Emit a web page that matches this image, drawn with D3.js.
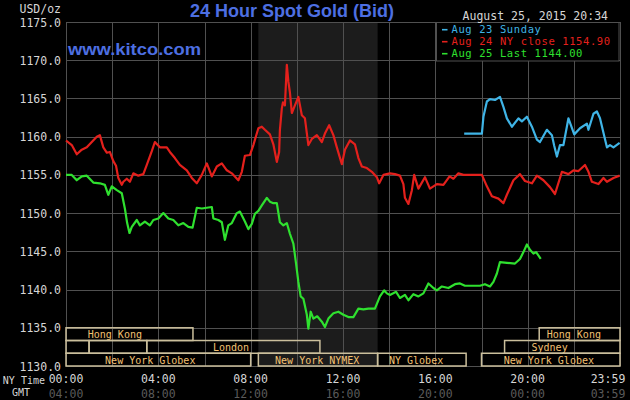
<!DOCTYPE html>
<html><head><meta charset="utf-8">
<script src="https://cdn.jsdelivr.net/npm/d3@7"></script>
<style>html,body{margin:0;padding:0;background:#000;overflow:hidden}</style>
</head><body>
<svg id="c" width="630" height="400"></svg>
<script>
// ---- data (NY time, USD/oz) ----
const aug23 = [["17:15",1160.4],["18:01",1160.4],["18:05",1162.6],["18:14",1164.6],["18:22",1164.9],["18:35",1164.8],["18:48",1165.2],["18:57",1163.9],["19:06",1162.4],["19:19",1161.3],["19:36",1162.4],["19:45",1162.0],["19:58",1162.6],["20:11",1161.3],["20:24",1159.6],["20:32",1159.3],["20:50",1160.9],["21:03",1160.2],["21:09",1158.8],["21:16",1157.4],["21:24",1158.9],["21:33",1158.9],["21:46",1162.4],["22:01",1160.3],["22:16",1161.1],["22:34",1161.7],["22:38",1160.9],["22:51",1163.0],["23:00",1163.3],["23:08",1162.4],["23:26",1158.6],["23:34",1158.9],["23:43",1158.6],["23:59",1159.2]];

const aug24 = [["00:00",1159.5],["00:15",1158.9],["00:28",1157.7],["00:41",1158.3],["00:54",1158.6],["01:07",1159.3],["01:20",1160.0],["01:28",1160.2],["01:37",1158.6],["01:46",1157.9],["01:54",1158.0],["02:03",1156.8],["02:10",1156.2],["02:16",1154.6],["02:25",1153.7],["02:29",1154.1],["02:38",1154.5],["02:46",1154.1],["02:55",1155.2],["03:08",1154.9],["03:21",1155.1],["03:30",1156.3],["03:43",1158.1],["03:51",1159.3],["04:04",1158.6],["04:22",1158.6],["04:30",1158.0],["04:43",1157.2],["04:56",1156.3],["05:14",1155.6],["05:27",1154.6],["05:40",1153.9],["05:53",1155.0],["06:06",1156.5],["06:19",1154.8],["06:32",1156.1],["06:45",1156.5],["06:58",1155.6],["07:11",1155.2],["07:28",1154.3],["07:37",1155.4],["07:45",1157.5],["07:58",1157.6],["08:07",1158.9],["08:20",1161.1],["08:29",1161.3],["08:37",1160.9],["08:50",1160.3],["08:59",1159.0],["09:08",1156.7],["09:14",1158.0],["09:16",1160.9],["09:21",1163.7],["09:24",1164.5],["09:29",1164.1],["09:34",1169.4],["09:38",1167.2],["09:42",1165.8],["09:47",1163.1],["09:55",1164.1],["10:04",1165.2],["10:13",1162.8],["10:21",1162.4],["10:30",1158.9],["10:39",1159.7],["10:52",1160.2],["11:05",1159.3],["11:13",1160.4],["11:24",1161.5],["11:35",1160.2],["11:44",1158.6],["11:57",1156.4],["12:05",1158.3],["12:18",1159.5],["12:31",1159.0],["12:40",1157.2],["12:49",1156.1],["13:02",1155.9],["13:15",1155.4],["13:28",1154.7],["13:34",1153.9],["13:45",1155.0],["14:02",1155.2],["14:15",1155.1],["14:28",1154.9],["14:37",1153.8],["14:41",1152.0],["14:50",1151.2],["14:59",1153.0],["15:05",1155.0],["15:16",1153.2],["15:33",1154.7],["15:46",1153.2],["16:04",1153.8],["16:21",1153.7],["16:37",1154.8],["16:47",1154.5],["17:00",1155.2],["17:13",1155.0],["18:01",1155.0],["18:14",1153.5],["18:27",1152.2],["18:44",1151.9],["18:57",1151.3],["19:06",1152.4],["19:23",1154.3],["19:40",1155.1],["19:53",1154.2],["20:11",1153.9],["20:24",1154.9],["20:41",1154.3],["20:58",1153.4],["21:11",1152.5],["21:29",1155.4],["21:46",1155.1],["21:59",1155.6],["22:12",1155.5],["22:29",1156.3],["22:38",1155.4],["22:47",1154.1],["23:04",1153.8],["23:17",1154.6],["23:26",1154.1],["23:43",1154.6],["23:59",1154.9]];

const aug25 = [["00:00",1155.0],["00:15",1155.0],["00:28",1154.3],["00:41",1154.8],["00:54",1154.9],["01:11",1154.0],["01:28",1153.9],["01:41",1153.7],["01:50",1152.4],["01:59",1153.5],["02:12",1153.0],["02:25",1152.6],["02:33",1150.6],["02:39",1148.7],["02:45",1147.4],["02:51",1148.2],["03:04",1149.1],["03:12",1148.4],["03:25",1148.9],["03:38",1148.4],["03:47",1149.1],["04:00",1149.3],["04:13",1150.0],["04:26",1149.3],["04:39",1149.1],["04:52",1148.4],["05:05",1148.7],["05:18",1148.2],["05:29",1148.1],["05:40",1150.7],["05:53",1150.6],["06:06",1150.7],["06:19",1150.8],["06:23",1149.3],["06:36",1149.1],["06:45",1148.8],["06:53",1146.5],["07:02",1148.4],["07:11",1148.7],["07:24",1150.0],["07:32",1150.2],["07:45",1148.9],["07:54",1147.9],["08:03",1148.6],["08:11",1149.9],["08:20",1150.3],["08:29",1151.0],["08:42",1152.0],["08:50",1151.5],["08:59",1151.3],["09:08",1151.3],["09:16",1148.8],["09:25",1148.4],["09:34",1148.7],["09:42",1147.3],["09:51",1146.0],["09:58",1143.4],["10:04",1141.0],["10:10",1139.1],["10:17",1138.8],["10:26",1136.7],["10:30",1134.9],["10:36",1137.1],["10:43",1136.2],["10:53",1136.5],["11:05",1135.8],["11:13",1135.1],["11:22",1136.2],["11:35",1136.9],["11:48",1137.1],["12:01",1136.7],["12:14",1136.4],["12:27",1136.4],["12:40",1137.5],["12:53",1137.4],["13:06",1137.5],["13:23",1137.5],["13:36",1139.1],["13:47",1139.9],["13:54",1139.5],["14:02",1139.3],["14:18",1139.7],["14:28",1138.9],["14:41",1139.3],["14:50",1138.6],["15:03",1139.4],["15:16",1139.1],["15:29",1139.5],["15:42",1140.8],["15:55",1140.2],["16:04",1139.9],["16:17",1140.4],["16:34",1140.2],["16:51",1140.7],["17:04",1140.8],["17:17",1140.5],["17:56",1140.5],["18:09",1140.7],["18:22",1140.4],["18:31",1141.0],["18:40",1142.1],["18:48",1143.6],["19:06",1143.5],["19:27",1143.4],["19:40",1144.0],["19:49",1144.9],["19:58",1145.9],["20:06",1145.2],["20:15",1144.7],["20:22",1144.9],["20:34",1144.0]];

const yTicks = [1130, 1135, 1140, 1145, 1150, 1155, 1160, 1165, 1170, 1175];
const xTickTimes = ["00:00","04:00","08:00","12:00","16:00","20:00","23:59"];
const gmtLabels = ["04:00","08:00","12:00","16:00","20:00","00:00","03:59"];
const gridTimes = ["00:00","02:00","04:00","06:00","08:00","10:00","12:00","14:00","16:00","18:00","20:00","22:00","24:00"];

const legendLabels = ["Aug 23 Sunday","Aug 24 NY close 1154.90","Aug 25 Last 1144.00"];
const seriesColors = ["#3fb4e6","#e4201c","#2fe02f"];

const sessionRow1 = [{name:"Hong Kong",start:"00:00",end:"05:30",at:"02:07"},{name:"Hong Kong",start:"20:30",end:"24:00",at:"22:00"}];
const sessionRow2 = [{name:"",start:"00:00",end:"01:00"},{name:"",start:"01:00",end:"03:30"},{name:"London",start:"03:30",end:"11:00",at:"07:09"},{name:"Sydney",start:"19:00",end:"24:00",at:"20:57"}];
const sessionRow3 = [{name:"New York Globex",start:"00:00",end:"08:00",at:"03:39"},{name:"New York NYMEX",start:"08:20",end:"13:30",at:"10:53"},{name:"NY Globex",start:"13:30",end:"17:20",at:"15:10"},{name:"New York Globex",start:"18:00",end:"24:00",at:"20:55"}];

// ---- chart ----
const W = 630, H = 400;
const m = {l:66, r:620, t:22, b:366};
const T = s => { const p = s.split(":").map(Number); return p[0] + p[1]/60; };
const x = d3.scaleLinear().domain([0,24]).range([m.l, m.r]);
const y = d3.scaleLinear().domain([1130,1175]).range([m.b, m.t]);
const mono = "'DejaVu Sans Mono', monospace";
const svg = d3.select("#c");
svg.append("rect").attr("width",W).attr("height",H).attr("fill","#000");

// NYMEX pit shading
const pit = sessionRow3[1];
svg.append("rect").attr("x",x(T(pit.start))).attr("y",y(1175))
  .attr("width",x(T(pit.end))-x(T(pit.start))).attr("height",y(1130)-y(1175))
  .attr("fill","#1c1c1c");

// grid
const grid = svg.append("g").attr("stroke","#505050").attr("stroke-width",1);
yTicks.forEach(v => {
  const yy = Math.round(y(v)) + 0.5;
  grid.append("line").attr("x1",m.l).attr("x2",m.r).attr("y1",yy).attr("y2",yy);
});
gridTimes.forEach(t => {
  const xx = Math.round(x(T(t))) + 0.5;
  grid.append("line").attr("x1",xx).attr("x2",xx).attr("y1",y(1175)).attr("y2",y(1130));
});

// sessions
const rowH = (y(1130) - y(1135)) / 3;
[sessionRow1, sessionRow2, sessionRow3].forEach((row, i) => {
  const top = y(1135) + i*rowH;
  row.forEach(s => {
    const x0 = x(T(s.start)), x1 = x(T(s.end));
    svg.append("rect").attr("x",x0).attr("y",top).attr("width",x1-x0).attr("height",rowH)
      .attr("fill","none").attr("stroke","#cbbf9c").attr("stroke-width",1.5);
    if (s.name) {
      svg.append("text").attr("x",x(T(s.at))).attr("y",top+rowH/2+0.5)
        .attr("text-anchor","middle").attr("dominant-baseline","central")
        .attr("font-family",mono).attr("font-size","10px").attr("fill","#f3c172").text(s.name);
    }
  });
});

// series
const line = d3.line().x(d => x(T(d[0]))).y(d => y(d[1]));
[aug23, aug24, aug25].forEach((s, i) => {
  svg.append("path").attr("d", line(s)).attr("fill","none")
    .attr("stroke", seriesColors[i]).attr("stroke-width",2.2).attr("stroke-linejoin","round");
});

// legend
svg.append("rect").attr("x",436.5).attr("y",22.5).attr("width",182.5).attr("height",38.5)
  .attr("fill","#000").attr("stroke","#505050");
legendLabels.forEach((l, i) => {
  const cy = 29.2 + i*12;
  svg.append("line").attr("x1",442).attr("x2",447.5).attr("y1",cy+0.5).attr("y2",cy+0.5)
    .attr("stroke",seriesColors[i]).attr("stroke-width",1.6);
  svg.append("text").attr("x",451.5).attr("y",cy).attr("dominant-baseline","central")
    .attr("font-family",mono).attr("font-size","10.5px").attr("letter-spacing","0.6px")
    .attr("fill",seriesColors[i]).text(l);
});

// y labels
const fmt = d3.format(".1f");
yTicks.forEach(v => {
  svg.append("text").attr("x",61).attr("y",y(v)+0.5).attr("text-anchor","end")
    .attr("dominant-baseline","central").attr("font-family",mono).attr("font-size","11.5px")
    .attr("fill","#d6d6d6").text(fmt(v));
});
svg.append("text").attr("x",61).attr("y",8.5).attr("text-anchor","end")
  .attr("dominant-baseline","central").attr("font-family",mono).attr("font-size","11.5px")
  .attr("fill","#d6d6d6").text("USD/oz");

// x labels
xTickTimes.forEach((t, i) => {
  const cx = Math.min(x(T(t)), W - 22);
  svg.append("text").attr("x",cx).attr("y",378.5).attr("text-anchor","middle")
    .attr("dominant-baseline","central").attr("font-family",mono).attr("font-size","11.5px")
    .attr("fill","#d6d6d6").text(t);
  svg.append("text").attr("x",cx).attr("y",393.5).attr("text-anchor","middle")
    .attr("dominant-baseline","central").attr("font-family",mono).attr("font-size","11.5px")
    .attr("fill","#5a5a5a").text(gmtLabels[i]);
});
svg.append("text").attr("x",45).attr("y",380).attr("text-anchor","end")
  .attr("dominant-baseline","central").attr("font-family",mono).attr("font-size","10px")
  .attr("fill","#d6d6d6").text("NY Time");
svg.append("text").attr("x",30).attr("y",392.5).attr("text-anchor","end")
  .attr("dominant-baseline","central").attr("font-family",mono).attr("font-size","10px")
  .attr("fill","#d6d6d6").text("GMT");

// titles
svg.append("text").attr("x",292).attr("y",17).attr("text-anchor","middle")
  .attr("font-family","'Liberation Sans', Arial, sans-serif").attr("font-weight","bold")
  .attr("font-size","18px").attr("fill","#4d6fe2").text("24 Hour Spot Gold (Bid)");
svg.append("text").attr("x",68).attr("y",54.5)
  .attr("font-family","'Liberation Sans', Arial, sans-serif").attr("font-weight","bold")
  .attr("font-size","17px").attr("fill","#4d6fe2").attr("textLength",133)
  .attr("lengthAdjust","spacingAndGlyphs").text("www.kitco.com");
svg.append("text").attr("x",608).attr("y",15.5).attr("text-anchor","end")
  .attr("dominant-baseline","central").attr("font-family",mono).attr("font-size","11.5px")
  .attr("fill","#d6d6d6").text("August 25, 2015 20:34");
</script>
</body></html>
